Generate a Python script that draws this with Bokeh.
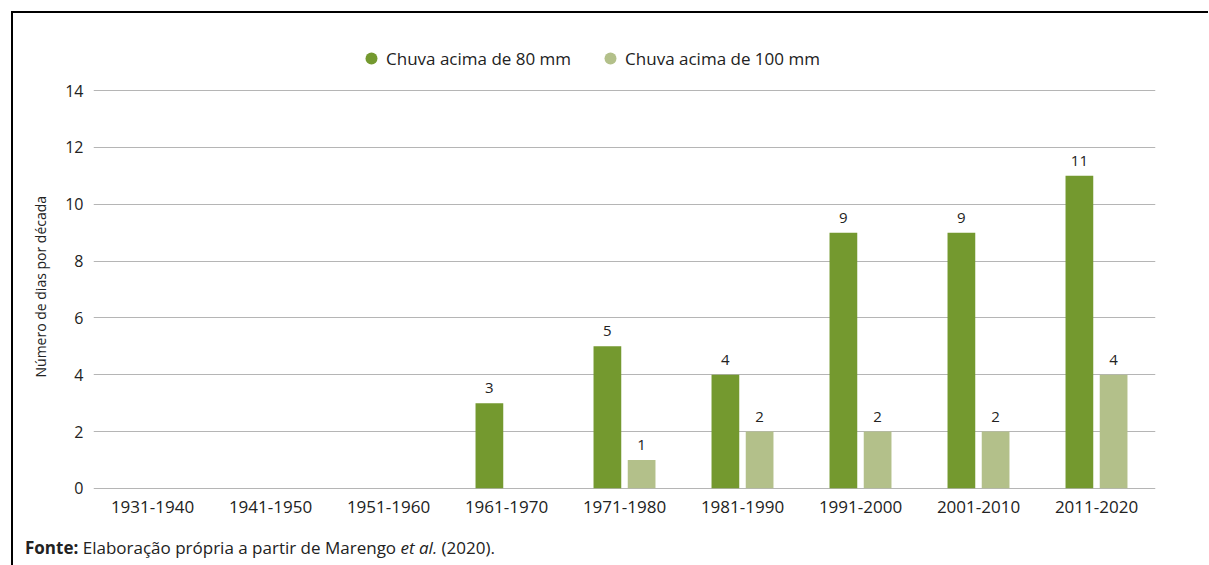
from bokeh.plotting import figure
from bokeh.models import (ColumnDataSource, FactorRange, Range1d, Legend, LegendItem, LabelSet,
                          FixedTicker, Div, Title)
from bokeh.layouts import column
from bokeh.transform import dodge
from bokeh.core.properties import value
from bokeh.embed import file_html
from bokeh.resources import INLINE

decades = ["1931-1940", "1941-1950", "1951-1960", "1961-1970", "1971-1980",
           "1981-1990", "1991-2000", "2001-2010", "2011-2020"]
chuva_80 = [0, 0, 0, 3, 5, 4, 9, 9, 11]
chuva_100 = [0, 0, 0, 0, 1, 2, 2, 2, 4]
series_names = ["Chuva acima de 80 mm", "Chuva acima de 100 mm"]
y_ticks = [0, 2, 4, 6, 8, 10, 12, 14]
y_title = "Número de dias por década"
source_note = "<b>Fonte:</b> Elaboração própria a partir de Marengo <i>et al.</i> (2020)."

C80 = "#74992f"
C100 = "#b3c08a"
FONT = "Open Sans"
TXT = "#222222"

src = ColumnDataSource(dict(decade=decades, v80=chuva_80, v100=chuva_100))
lab80 = ColumnDataSource(dict(
    decade=[d for d, v in zip(decades, chuva_80) if v > 0],
    v=[v for v in chuva_80 if v > 0],
    t=[str(v) for v in chuva_80 if v > 0]))
lab100 = ColumnDataSource(dict(
    decade=[d for d, v in zip(decades, chuva_100) if v > 0],
    v=[v for v in chuva_100 if v > 0],
    t=[str(v) for v in chuva_100 if v > 0]))

# frame extends above the 14 gridline to host the legend
p = figure(x_range=FactorRange(*decades), y_range=Range1d(-0.04, 16.152),
           width=1195, height=520, output_backend="svg", toolbar_location=None,
           min_border_left=80, min_border_right=53, min_border_top=16, min_border_bottom=44)
p.outline_line_color = None
p.background_fill_color = "white"
p.border_fill_color = "white"

off = 0.145
bw = 0.235
r80 = p.vbar(x=dodge("decade", -off, range=p.x_range), top="v80", width=bw, source=src,
             fill_color=C80, line_color=None)
r100 = p.vbar(x=dodge("decade", off, range=p.x_range), top="v100", width=bw, source=src,
              fill_color=C100, line_color=None)

for s, o in ((lab80, -off), (lab100, off)):
    p.add_layout(LabelSet(x=dodge("decade", o, range=p.x_range), y="v", text="t", source=s,
                          y_offset=10, text_align="center", text_baseline="alphabetic",
                          text_font=value(FONT), text_font_size="15px", text_color=TXT))

# zero-size markers that only supply the round legend glyphs
m80 = p.scatter(x="decade", y="v80", source=src, marker="circle", fill_color=C80,
                line_color=None, size=0)
m100 = p.scatter(x="decade", y="v100", source=src, marker="circle", fill_color=C100,
                 line_color=None, size=0)
legend = Legend(items=[LegendItem(label=series_names[0], renderers=[m80]),
                       LegendItem(label=series_names[1], renderers=[m100])],
                orientation="horizontal", location=(263, 416),
                glyph_width=30, glyph_height=30, label_standoff=0, spacing=24,
                padding=0, margin=0, border_line_color=None, background_fill_alpha=0,
                label_text_font=FONT, label_text_font_size="17px", label_text_color=TXT)
p.add_layout(legend, "center")

p.xgrid.grid_line_color = None
p.ygrid.grid_line_color = "#b5b5b5"
p.ygrid.grid_line_width = 1
p.yaxis.ticker = FixedTicker(ticks=y_ticks)
for ax in (p.xaxis[0], p.yaxis[0]):
    ax.axis_line_color = None
    ax.major_tick_line_color = None
    ax.minor_tick_line_color = None
    ax.major_label_text_font = FONT
    ax.major_label_text_color = TXT
p.xaxis.major_label_text_font_size = "17px"
p.xaxis.major_label_standoff = 5
p.yaxis.major_label_text_font_size = "16px"
p.yaxis.major_label_standoff = 4

p.add_layout(Title(text=y_title, align="left", offset=112, standoff=26,
                   text_font=FONT, text_font_style="normal", text_font_size="14px",
                   text_color=TXT), "left")

note = Div(text=source_note, width=900, height=24,
           styles={"font-family": FONT, "font-size": "17px", "color": TXT,
                   "padding-left": "7px", "margin-top": "3px", "white-space": "nowrap"})

page = column(p, note, spacing=0,
              styles={"border-left": "2px solid black", "border-top": "2px solid black",
                      "margin-left": "11px", "margin-top": "11px", "background": "white"})

open("out.html", "w").write(file_html(page, INLINE))
